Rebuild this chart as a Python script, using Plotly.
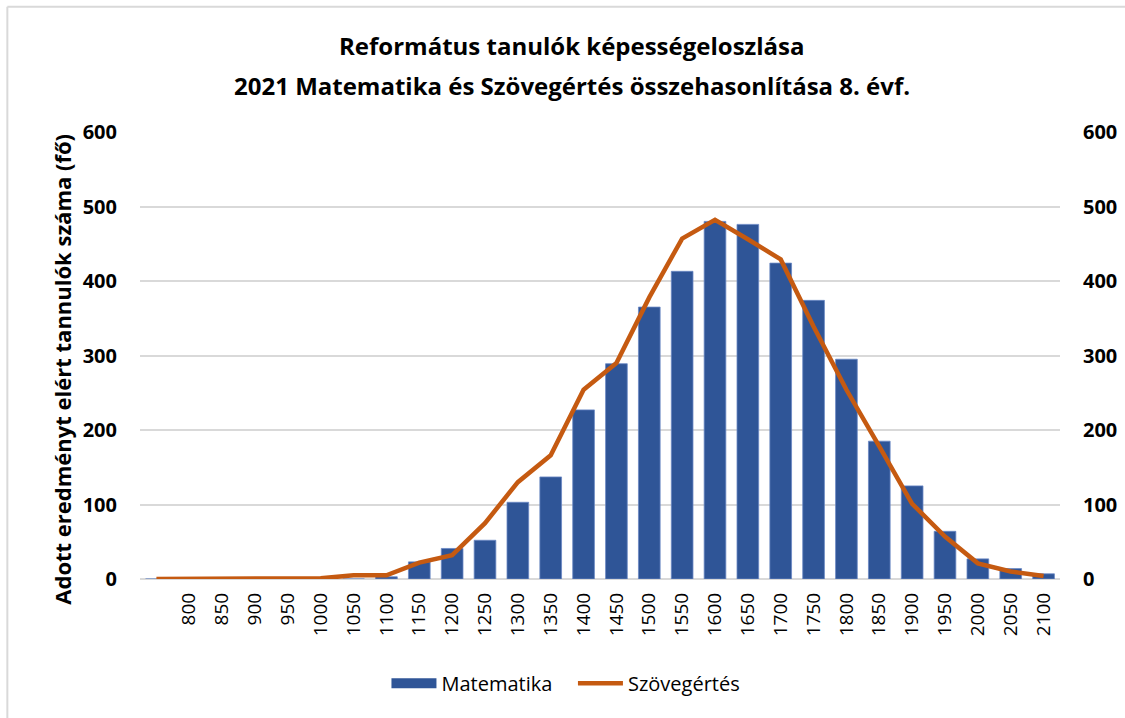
import plotly.graph_objects as go

categories = [" ", "800", "850", "900", "950", "1000", "1050", "1100", "1150", "1200",
              "1250", "1300", "1350", "1400", "1450", "1500", "1550", "1600", "1650",
              "1700", "1750", "1800", "1850", "1900", "1950", "2000", "2050", "2100"]
matematika = [0, 0, 0, 0, 0, 0, 0, 3, 23, 41, 52, 103, 137, 227, 289, 365, 413, 480,
              476, 424, 374, 295, 185, 125, 64, 27, 14, 7]
szovegertes = [0, 0, 0, 0, 1, 1, 5, 5, 22, 32, 75, 130, 166, 254, 290, 378, 457, 482,
               456, 429, 339, 254, 178, 101, 57, 21, 10, 4]

title_line1 = "Református tanulók képességeloszlása"
title_line2 = "2021 Matematika és Szövegértés összehasonlítása 8. évf."
y_title = "Adott eredményt elért tannulók száma (fő)"
font_family = "Open Sans, sans-serif"

BLUE = "#2F5597"
ORANGE = "#C55A11"

fig = go.Figure()
fig.add_trace(go.Bar(
    x=categories, y=matematika, name="Matematika",
    marker=dict(color=BLUE, line=dict(color="#6A88C4", width=0.8)),
    yaxis="y", showlegend=False,
))
# legend-only swatch for the bar series (wide rectangle like the reference)
fig.add_trace(go.Scatter(
    x=[None], y=[None], name="Matematika\u00a0\u00a0\u00a0", mode="lines",
    line=dict(color=BLUE, width=13), yaxis="y", showlegend=True,
))
fig.add_trace(go.Scatter(
    x=categories, y=szovegertes, name="Szövegértés", mode="lines",
    line=dict(color=ORANGE, width=4.5),
    yaxis="y2",
))

title_font = dict(family=font_family, size=24, color="#000000", weight="bold")

fig.update_layout(
    width=1125, height=718,
    paper_bgcolor="white", plot_bgcolor="white",
    margin=dict(l=140, r=65, t=132, b=139, autoexpand=False),
    font=dict(family=font_family, color="#000000"),
    bargap=0.34,
    showlegend=True,
    legend=dict(orientation="h", x=0.463, xanchor="center", xref="paper",
                y=-0.233, yanchor="middle", font=dict(size=20),
                itemwidth=45, traceorder="normal"),
    xaxis=dict(type="category", categoryorder="array", categoryarray=categories,
               tickangle=-90, tickfont=dict(size=19), showgrid=False, automargin=False,
               showline=False, ticks="", zeroline=False, ticklabelstandoff=9),
    yaxis=dict(range=[0, 600], dtick=100, showgrid=True, gridcolor="#D9D9D9",
               gridwidth=1.5, zeroline=True, zerolinecolor="#D9D9D9", zerolinewidth=1.5,
               automargin=False,
               tickfont=dict(size=20, weight="bold"), ticks="", ticklabelstandoff=22),
    yaxis2=dict(range=[0, 600], dtick=100, overlaying="y", side="right",
                showgrid=False, zeroline=False, automargin=False,
                tickfont=dict(size=20, weight="bold"), ticks="", ticklabelstandoff=22),
    annotations=[
        dict(text=y_title, textangle=-90, x=-0.085, xref="paper",
             y=0.47, yref="paper", xanchor="center", yanchor="middle",
             showarrow=False, font=dict(family=font_family, size=22, weight="bold")),
        dict(text=title_line1, x=0.4696, xref="paper", xanchor="center",
             y=1.1946, yref="paper", yanchor="middle", showarrow=False, font=title_font),
        dict(text=title_line2, x=0.4696, xref="paper", xanchor="center",
             y=1.105, yref="paper", yanchor="middle", showarrow=False, font=title_font),
    ],
    shapes=[
        dict(type="line", xref="paper", yref="paper", x0=-0.1442, x1=1.2, y0=1.2802, y1=1.2802,
             line=dict(color="#D9D9D9", width=2)),
        dict(type="line", xref="paper", yref="paper", x0=-0.1442, x1=-0.1442, y0=-0.4, y1=1.2802,
             line=dict(color="#D9D9D9", width=2)),
    ],
)

fig.write_html("out.html", config={"displayModeBar": False},
               post_script="document.body.style.margin='0';")
